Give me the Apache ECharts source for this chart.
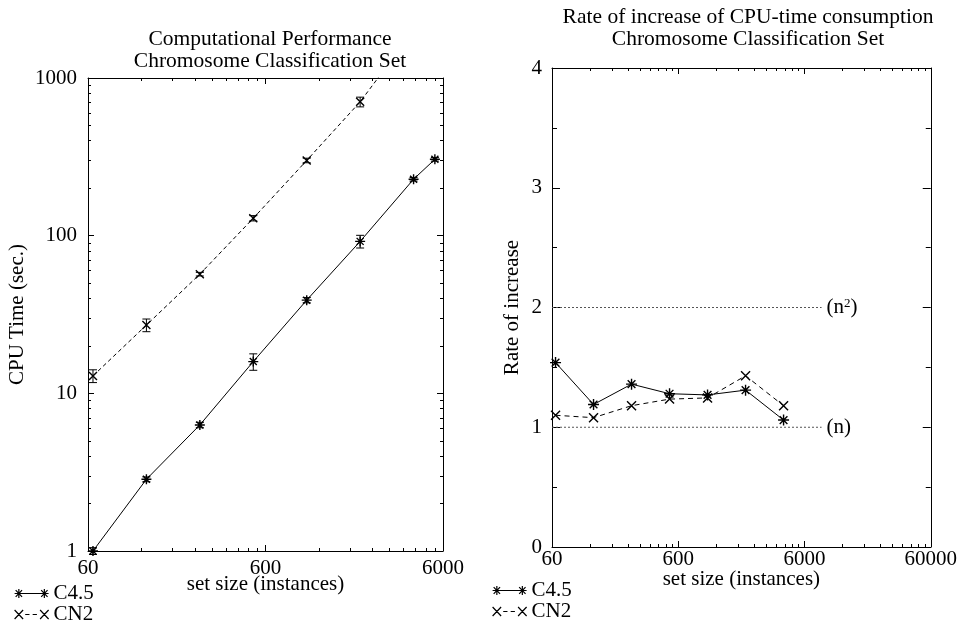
<!DOCTYPE html>
<html>
<head>
<meta charset="utf-8">
<script src="https://cdn.jsdelivr.net/npm/echarts@6/dist/echarts.min.js"></script>
<style>
  html, body { margin: 0; padding: 0; background: #fff; }
  #chart { width: 960px; height: 625px; }
</style>
</head>
<body>
<div id="chart"></div>
<script>
// set sizes (instances)
const sizes = [64, 128, 256, 512, 1024, 2048, 4096, 5400];
const cn2Sizes = [64, 128, 256, 512, 1024, 2048, 4096];
const rateSizes = [64, 128, 256, 512, 1024, 2048, 4096];

// CPU time (sec.)
const c45Time = [1.0, 2.85, 6.3, 15.9, 39, 92, 228, 305];
const c45Err = [0.05, 0.1, 0.25, 1.9, 1.5, 8.5, 6, 8];
const cn2Time = [12.9, 27.1, 57, 129, 300, 706, 2000];
const cn2Err = [1.2, 2.5, 1.5, 5, 10, 50, 0];

// rate of increase
const c45Rate = [1.54, 1.19, 1.36, 1.28, 1.27, 1.31, 1.06];
const cn2Rate = [1.10, 1.08, 1.18, 1.235, 1.245, 1.43, 1.18];

// reference lines (n) and (n^2)
const refSizes = [60, 8192];
const refLinear = [1, 1];
const refSquare = [2, 2];

// tick labels
const xMajorL = [60, 600, 6000];
const xMajorR = [60, 600, 6000, 60000];
const yMajorL = [1, 10, 100, 1000];

const FONT = 'Liberation Serif';
const pairs = (xs, ys) => xs.map((x, i) => [x, ys[i]]);
const minorOf = majors => {
  const out = [];
  majors.slice(0, -1).forEach(b => { for (let k = 2; k <= 9; k++) out.push(b * k); });
  return out;
};
const errData = (xs, ys, es) => xs.map((x, i) => [x, ys[i] - es[i], ys[i] + es[i]]).filter((d, i) => es[i] > 0);

const asterisk = 'path://M0,5L10,5M5,0L5,10M1.5,1.5L8.5,8.5M1.5,8.5L8.5,1.5';
const cross = 'path://M0,0L10,10M0,10L10,0';
const c45Icon = 'path://M1,5L9,5M5,1L5,9M2,2L8,8M2,8L8,2M5,5L29,5M25,5L33,5M29,1L29,9M26,2L32,8M26,8L32,2';
const cn2Icon = 'path://M1,1L9,9M1,9L9,1M11,5L15,5M18,5L22,5M25,1L33,9M25,9L33,1';

const labelStyle = { fontFamily: FONT, fontSize: 21, color: '#000' };
const black = { color: '#000', width: 1 };
const plain = v => String(v);

function logAxis(grid, pos, min, max, majors, opts) {
  const minor = opts.minor;
  return Object.assign({
    type: 'log', logBase: 10, gridIndex: grid, position: pos, min: min, max: max,
    axisLine: { show: !minor, lineStyle: black },
    axisTick: { show: true, inside: true, length: minor ? 3 : 6, lineStyle: black,
                customValues: minor ? minorOf(majors) : majors },
    axisLabel: { show: !!opts.labels, customValues: majors, formatter: plain, ...labelStyle, margin: opts.margin || 8 },
    splitLine: { show: false },
    minorTick: { show: false }
  }, opts.extra || {});
}

function errRender(params, api) {
  const x = api.value(0);
  const top = api.coord([x, api.value(2)]);
  const bot = api.coord([x, api.value(1)]);
  const w = 4;
  const st = { stroke: '#000', lineWidth: 1 };
  return { type: 'group', children: [
    { type: 'line', shape: { x1: top[0], y1: top[1], x2: bot[0], y2: bot[1] }, style: st },
    { type: 'line', shape: { x1: top[0] - w, y1: top[1], x2: top[0] + w, y2: top[1] }, style: st },
    { type: 'line', shape: { x1: bot[0] - w, y1: bot[1], x2: bot[0] + w, y2: bot[1] }, style: st }
  ]};
}

const markerStyle = { color: 'transparent', borderColor: '#000', borderWidth: 1.4 };

function legendAt(left, top) {
  return {
    data: [{ name: 'C4.5', icon: c45Icon }, { name: 'CN2', icon: cn2Icon }],
    orient: 'vertical', left: left, top: top, height: 44, padding: 0,
    itemGap: 0, itemWidth: 34, itemHeight: 9,
    symbolKeepAspect: false, selectedMode: false,
    itemStyle: { color: 'transparent', borderColor: '#000', borderWidth: 1.2 },
    textStyle: { ...labelStyle, lineHeight: 20 }
  };
}

const chart = echarts.init(document.getElementById('chart'), null, { renderer: 'canvas' });

chart.setOption({
  animation: false,
  backgroundColor: '#fff',
  title: [
    { text: 'Computational Performance\nChromosome Classification Set', left: 265, top: 23, textAlign: 'center',
      textStyle: { ...labelStyle, fontSize: 21.5, fontWeight: 'normal', lineHeight: 22 } },
    { text: 'Rate of increase of CPU-time consumption\nChromosome Classification Set', left: 743, top: 1, textAlign: 'center',
      textStyle: { ...labelStyle, fontSize: 21.5, fontWeight: 'normal', lineHeight: 22 } }
  ],
  legend: [legendAt(14, 583), legendAt(492, 580)],
  grid: [
    { left: 88, right: 517, top: 78, bottom: 74 },
    { left: 552, right: 25, top: 68, bottom: 78 }
  ],
  xAxis: [
    logAxis(0, 'bottom', 60, 6000, xMajorL, { labels: true, margin: 7,
      extra: { name: 'set size (instances)', nameLocation: 'middle', nameGap: 23, nameMoveOverlap: false,
               nameTextStyle: { ...labelStyle, verticalAlign: 'top' } } }),
    logAxis(0, 'bottom', 60, 6000, xMajorL, { minor: true }),
    logAxis(0, 'top', 60, 6000, xMajorL, {}),
    logAxis(0, 'top', 60, 6000, xMajorL, { minor: true }),
    logAxis(1, 'bottom', 60, 60000, xMajorR, { labels: true, margin: 2,
      extra: { name: 'set size (instances)', nameLocation: 'middle', nameGap: 22, nameMoveOverlap: false,
               nameTextStyle: { ...labelStyle, verticalAlign: 'top' } } }),
    logAxis(1, 'bottom', 60, 60000, xMajorR, { minor: true }),
    logAxis(1, 'top', 60, 60000, xMajorR, {}),
    logAxis(1, 'top', 60, 60000, xMajorR, { minor: true })
  ],
  yAxis: [
    logAxis(0, 'left', 1, 1000, yMajorL, { labels: true, margin: 11,
      extra: { name: 'CPU Time (sec.)', nameLocation: 'middle', nameGap: 60, nameMoveOverlap: false, nameTextStyle: labelStyle } }),
    logAxis(0, 'left', 1, 1000, yMajorL, { minor: true }),
    logAxis(0, 'right', 1, 1000, yMajorL, {}),
    logAxis(0, 'right', 1, 1000, yMajorL, { minor: true }),
    { type: 'value', gridIndex: 1, position: 'left', min: 0, max: 4, interval: 1,
      name: 'Rate of increase', nameLocation: 'middle', nameGap: 29, nameMoveOverlap: false, nameTextStyle: labelStyle,
      axisLine: { show: true, lineStyle: black },
      axisTick: { show: true, inside: true, length: 8, lineStyle: black },
      minorTick: { show: true, splitNumber: 2, length: 5, lineStyle: black },
      axisLabel: { ...labelStyle, margin: 10 },
      splitLine: { show: false } },
    { type: 'value', gridIndex: 1, position: 'right', min: 0, max: 4, interval: 1,
      axisLine: { show: true, lineStyle: black },
      axisTick: { show: true, inside: true, length: 8, lineStyle: black },
      minorTick: { show: true, splitNumber: 2, length: 5, lineStyle: black },
      axisLabel: { show: false },
      splitLine: { show: false } }
  ],
  series: [
    { name: 'C4.5', type: 'line', xAxisIndex: 0, yAxisIndex: 0, data: pairs(sizes, c45Time),
      symbol: asterisk, symbolSize: 10, itemStyle: markerStyle,
      lineStyle: { color: '#000', width: 1, type: 'solid' } },
    { name: 'CN2', type: 'line', xAxisIndex: 0, yAxisIndex: 0, data: pairs(cn2Sizes, cn2Time),
      symbol: cross, symbolSize: 8, itemStyle: markerStyle,
      lineStyle: { color: '#000', width: 1, type: [4, 3] } },
    { name: 'C4.5 err', type: 'custom', xAxisIndex: 0, yAxisIndex: 0, renderItem: errRender,
      data: errData(sizes, c45Time, c45Err) },
    { name: 'CN2 err', type: 'custom', xAxisIndex: 0, yAxisIndex: 0, renderItem: errRender,
      data: errData(cn2Sizes, cn2Time, cn2Err) },
    { name: 'n2', type: 'line', xAxisIndex: 4, yAxisIndex: 4, data: pairs(refSizes, refSquare),
      symbol: 'none', lineStyle: { color: '#555', width: 1, type: [2, 2] },
      endLabel: { show: true, distance: 5, formatter: '(n{sup|2})', ...labelStyle,
        rich: { sup: { fontFamily: FONT, fontSize: 13, color: '#000', verticalAlign: 'top', padding: [0, 0, 8, 0] } } } },
    { name: 'n', type: 'line', xAxisIndex: 4, yAxisIndex: 4, data: pairs(refSizes, refLinear),
      symbol: 'none', lineStyle: { color: '#555', width: 1, type: [2, 2] },
      endLabel: { show: true, distance: 5, formatter: '(n)', ...labelStyle } },
    { name: 'C4.5', type: 'line', xAxisIndex: 4, yAxisIndex: 4, data: pairs(rateSizes, c45Rate),
      symbol: asterisk, symbolSize: 11, itemStyle: markerStyle,
      lineStyle: { color: '#000', width: 1, type: 'solid' } },
    { name: 'CN2', type: 'line', xAxisIndex: 4, yAxisIndex: 4, data: pairs(rateSizes, cn2Rate),
      symbol: cross, symbolSize: 9, itemStyle: markerStyle,
      lineStyle: { color: '#000', width: 1, type: [5, 4] } }
  ]
});
</script>
</body>
</html>
